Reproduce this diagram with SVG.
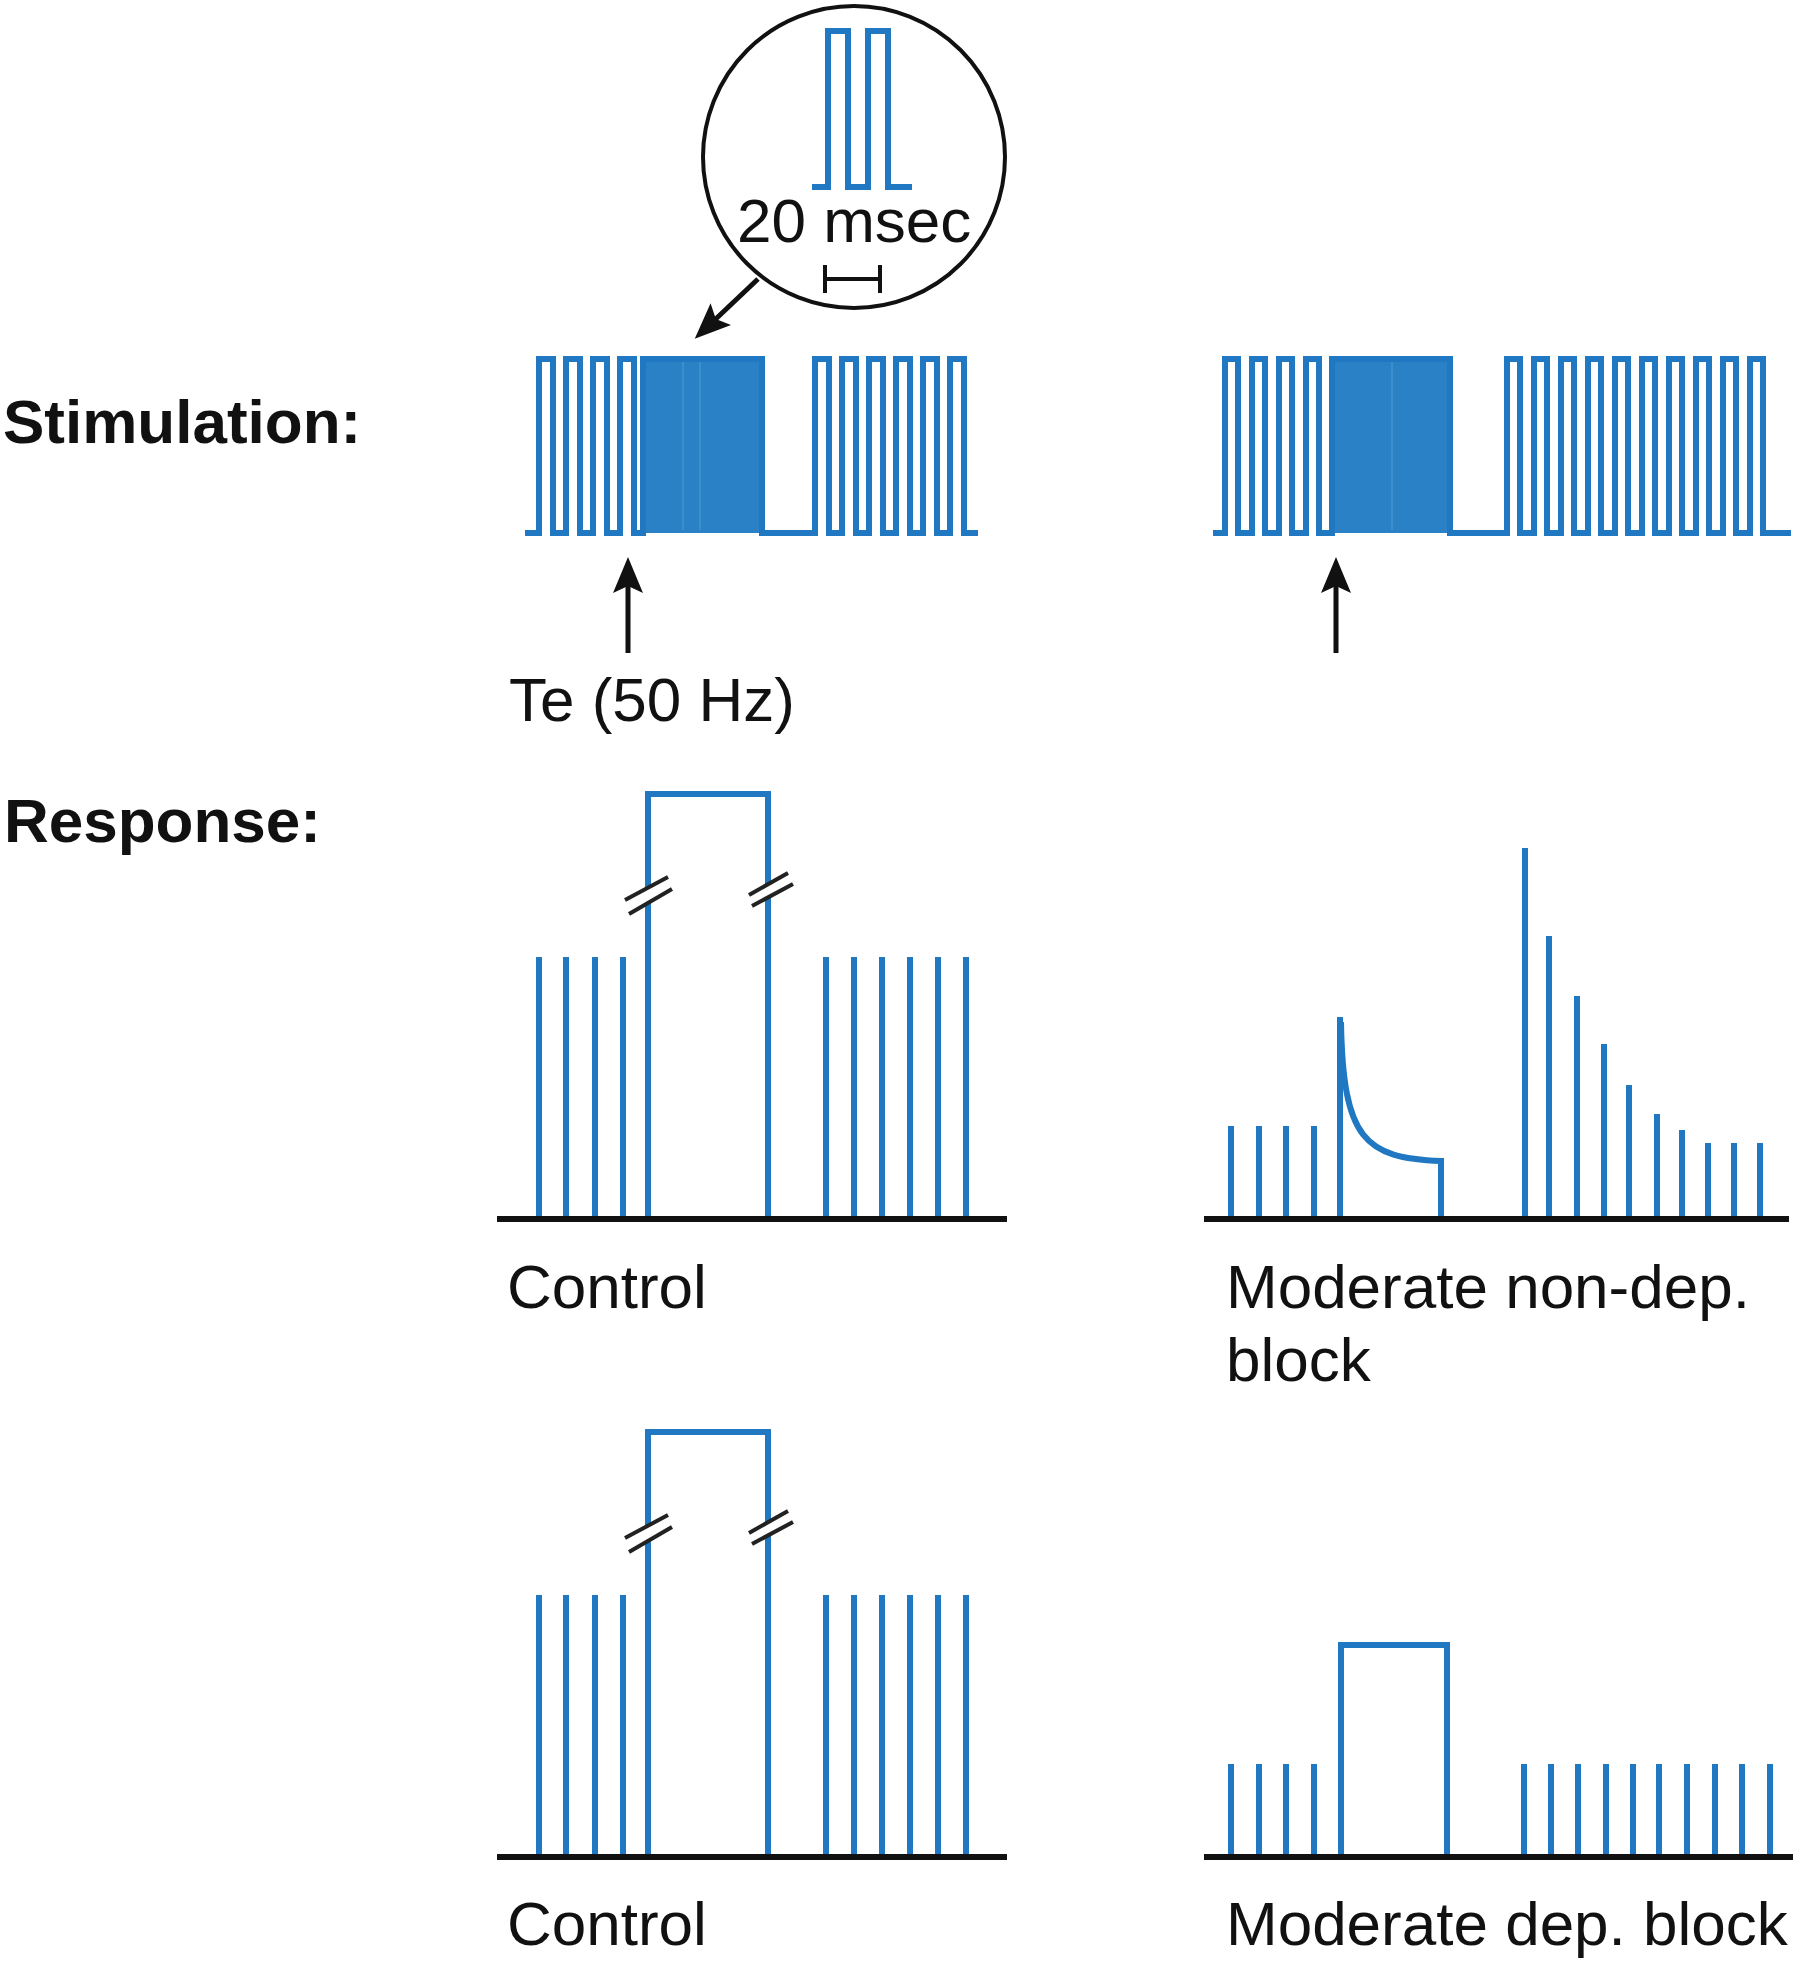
<svg xmlns="http://www.w3.org/2000/svg" width="1812" height="1971" viewBox="0 0 1812 1971">
<style>
.sig{fill:none;stroke:#1f78c1;stroke-width:6;stroke-linejoin:miter;stroke-linecap:butt}
.blk{fill:#2a81c6;stroke:none}
.faint{stroke:#4a97d3;stroke-width:2;opacity:.6}
.axis{fill:none;stroke:#111;stroke-width:6}
.brk{fill:none;stroke:#222;stroke-width:4}
.ink{fill:none;stroke:#111;stroke-width:4}
.arr{fill:none;stroke:#111;stroke-width:5;marker-end:url(#ah)}
.lbl{font-family:"Liberation Sans",Arial,sans-serif;font-size:62px;fill:#111}
.hdr{font-weight:bold}
</style>
<defs>
<marker id="ah" viewBox="0 0 36 30" refX="26" refY="15" markerWidth="36" markerHeight="30" markerUnits="userSpaceOnUse" orient="auto">
<path d="M0,0 L36,15 L0,30 L7,15 Z" fill="#111"/>
</marker>
</defs>
<rect width="1812" height="1971" fill="#fff"/>

<g id="inset">
<circle cx="854" cy="157" r="151" class="ink"/>
<path class="sig" d="M812,187 H828 V31 H848 V187 H868 V31 H888 V187 H912"/>
<text class="lbl" x="737" y="242">20 msec</text>
<path class="ink" d="M825,265 V293 M880,265 V293 M825,279 H880"/>
</g>

<g id="stim-left">
<rect class="blk" x="643" y="359" width="119" height="174"/>
<path class="faint" d="M683,362 V530 M700,362 V530"/>
<path class="sig" d="M525,533 H539 V359 H553 V533 H566 V359 H580 V533 H593 V359 H607 V533 H620 V359 H634 V533 H643 V359 H762 V533 H815 V359 H829 V533 H842 V359 H856 V533 H869 V359 H883 V533 H896 V359 H910 V533 H923 V359 H937 V533 H950 V359 H964 V533 H978"/>
</g>

<g id="stim-right">
<rect class="blk" x="1332" y="359" width="118" height="174"/>
<path class="faint" d="M1392,362 V530"/>
<path class="sig" d="M1213,533 H1225 V359 H1238 V533 H1252 V359 H1265 V533 H1279 V359 H1292 V533 H1306 V359 H1319 V533 H1332 V359 H1450 V533 H1507 V359 H1520 V533 H1534 V359 H1547 V533 H1561 V359 H1574 V533 H1588 V359 H1601 V533 H1615 V359 H1628 V533 H1642 V359 H1655 V533 H1669 V359 H1682 V533 H1696 V359 H1709 V533 H1723 V359 H1736 V533 H1750 V359 H1763 V533 H1791"/>
</g>

<g id="resp-control-1">
<path class="sig" d="M539,1219V957 M566,1219V957 M595,1219V957 M623,1219V957 M826,1219V957 M854,1219V957 M882,1219V957 M910,1219V957 M938,1219V957 M966,1219V957"/>
<path class="sig" d="M648,1219 V903 M648,888 V794 H768 V884 M768,897 V1219"/>
<path class="brk" d="M625,900 L668,877 M629,914 L672,889 M749,895 L788,873 M752,906 L793,884"/>
<path class="axis" d="M497,1219 H1007"/>
</g>

<g id="resp-nondep">
<path class="sig" d="M1231,1219V1126 M1259,1219V1126 M1286,1219V1126 M1314,1219V1126 M1340,1219V1017"/>
<path class="sig" d="M1341,1022 C1343,1140 1365,1158 1441,1161 V1219"/>
<path class="sig" d="M1525,1219V848 M1549,1219V936 M1577,1219V996 M1604,1219V1044 M1629,1219V1085 M1657,1219V1114 M1682,1219V1130 M1708,1219V1143 M1734,1219V1143 M1760,1219V1143"/>
<path class="axis" d="M1204,1219 H1789"/>
</g>

<g id="resp-control-2" transform="translate(0,638)">
<path class="sig" d="M539,1219V957 M566,1219V957 M595,1219V957 M623,1219V957 M826,1219V957 M854,1219V957 M882,1219V957 M910,1219V957 M938,1219V957 M966,1219V957"/>
<path class="sig" d="M648,1219 V903 M648,888 V794 H768 V884 M768,897 V1219"/>
<path class="brk" d="M625,900 L668,877 M629,914 L672,889 M749,895 L788,873 M752,906 L793,884"/>
<path class="axis" d="M497,1219 H1007"/>
</g>

<g id="resp-dep">
<path class="sig" d="M1231,1857V1764 M1259,1857V1764 M1286,1857V1764 M1314,1857V1764"/>
<path class="sig" d="M1341,1857 V1645 H1447 V1857"/>
<path class="sig" d="M1524,1857V1764 M1551,1857V1764 M1578,1857V1764 M1606,1857V1764 M1633,1857V1764 M1659,1857V1764 M1687,1857V1764 M1715,1857V1764 M1742,1857V1764 M1770,1857V1764"/>
<path class="axis" d="M1204,1857 H1793"/>
</g>

<g id="labels">
<text class="lbl hdr" x="3" y="443">Stimulation:</text>
<text class="lbl hdr" x="4" y="842">Response:</text>
<text class="lbl" x="509" y="721">Te (50 Hz)</text>
<text class="lbl" x="507" y="1308">Control</text>
<text class="lbl" x="1226" y="1308">Moderate non-dep.</text>
<text class="lbl" x="1226" y="1381">block</text>
<text class="lbl" x="507" y="1945">Control</text>
<text class="lbl" x="1226" y="1945">Moderate dep. block</text>
</g>

<g id="connectors">
<line class="arr" x1="628" y1="653" x2="628" y2="567"/>
<line class="arr" x1="1336" y1="653" x2="1336" y2="567"/>
<line class="arr" x1="758" y1="279" x2="702" y2="332"/>
</g>
</svg>
